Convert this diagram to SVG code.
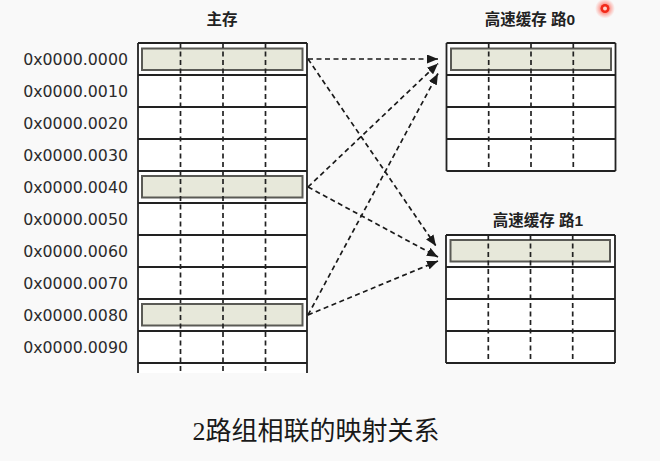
<svg xmlns="http://www.w3.org/2000/svg" width="660" height="461" viewBox="0 0 660 461">
<defs>
<style>
.bg{fill:#f9f9f9}
.cell{fill:#ffffff;stroke:none}
.hl{fill:#e7e8da;stroke:#5a5a55;stroke-width:2}
.h{stroke:#222;stroke-width:1.8;fill:none}
.v{stroke:#222;stroke-width:1.8;fill:none}
.d{stroke:#222;stroke-width:1.7;stroke-dasharray:5,3.5;fill:none}
.addr{font-family:"DejaVu Sans",sans-serif;font-size:15.8px;fill:#2b2b2b;text-anchor:end}
.title{font-family:"Liberation Sans","Noto Sans CJK SC",sans-serif;font-size:15.5px;font-weight:bold;fill:#222;text-anchor:middle}
.cap{font-family:"Liberation Serif","Noto Sans CJK SC",serif;font-size:26px;fill:#1a1a1a;text-anchor:middle}
.conn{stroke:#1a1a1a;stroke-width:1.7;stroke-dasharray:5,3.5;fill:none}
</style>
<marker id="ah" markerUnits="userSpaceOnUse" markerWidth="12" markerHeight="9" refX="11" refY="4.5" orient="auto">
<path d="M0,0 L11,4.5 L0,9 z" fill="#1a1a1a"/>
</marker>
<radialGradient id="glow">
<stop offset="0" stop-color="#ff2a1a" stop-opacity="0.9"/>
<stop offset="0.5" stop-color="#ff4a3a" stop-opacity="0.5"/>
<stop offset="1" stop-color="#ff6a5a" stop-opacity="0"/>
</radialGradient>
</defs>
<rect class="bg" x="0" y="0" width="660" height="461"/>

<g id="main-memory">
<text class="title" x="222" y="25">主存</text>
<rect class="cell" x="138" y="43" width="169" height="330"/>
<rect class="hl" x="142" y="48.5" width="160.5" height="21.5"/>
<rect class="hl" x="142" y="176" width="160.5" height="21.5"/>
<rect class="hl" x="142" y="304" width="160.5" height="21.5"/>
<path class="h" d="M138,43H307M138,75H307M138,107H307M138,139H307M138,171H307M138,203H307M138,235H307M138,267H307M138,299H307M138,331H307M138,363H307"/>
<path class="v" d="M138,43V373M307,43V373"/>
<path class="d" d="M180.5,43V373M223,43V373M265.5,43V373"/>
<text class="addr" x="128" y="65">0x0000.0000</text>
<text class="addr" x="128" y="97">0x0000.0010</text>
<text class="addr" x="128" y="129">0x0000.0020</text>
<text class="addr" x="128" y="161">0x0000.0030</text>
<text class="addr" x="128" y="193">0x0000.0040</text>
<text class="addr" x="128" y="225">0x0000.0050</text>
<text class="addr" x="128" y="257">0x0000.0060</text>
<text class="addr" x="128" y="289">0x0000.0070</text>
<text class="addr" x="128" y="321">0x0000.0080</text>
<text class="addr" x="128" y="353">0x0000.0090</text>
</g>

<g id="cache-way0">
<text class="title" x="530" y="25">高速缓存 路0</text>
<rect class="cell" x="446.5" y="43" width="169" height="128"/>
<rect class="hl" x="451" y="48.5" width="160" height="21.5"/>
<path class="h" d="M446.5,43H615.5M446.5,75H615.5M446.5,107H615.5M446.5,139H615.5M446.5,171H615.5"/>
<path class="v" d="M446.5,43V171M615.5,43V171"/>
<path class="d" d="M488.7,43V171M531,43V171M573.3,43V171"/>
</g>

<g id="cache-way1">
<text class="title" x="538" y="226">高速缓存 路1</text>
<rect class="cell" x="446" y="235" width="169" height="128"/>
<rect class="hl" x="450.5" y="240" width="159.5" height="21.5"/>
<path class="h" d="M446,235H615M446,267H615M446,299H615M446,331H615M446,363H615"/>
<path class="v" d="M446,235V363M615,235V363"/>
<path class="d" d="M488.3,235V363M530.5,235V363M572.7,235V363"/>
</g>

<g id="connectors">
<line class="conn" x1="308" y1="59" x2="438" y2="59" marker-end="url(#ah)"/>
<line class="conn" x1="308" y1="59" x2="436" y2="246" marker-end="url(#ah)"/>
<line class="conn" x1="308" y1="187" x2="438" y2="63.5" marker-end="url(#ah)"/>
<line class="conn" x1="308" y1="187" x2="438" y2="257" marker-end="url(#ah)"/>
<line class="conn" x1="308" y1="315" x2="438" y2="73.5" marker-end="url(#ah)"/>
<line class="conn" x1="308" y1="315" x2="438" y2="261" marker-end="url(#ah)"/>
</g>

<g id="cursor">
<circle cx="605" cy="8.5" r="10" fill="url(#glow)"/>
<circle cx="605" cy="8.5" r="4.5" fill="#f22a1a"/>
<circle cx="605" cy="8.5" r="2" fill="#ffd0c8"/>
</g>

<text class="cap" x="316" y="440">2路组相联的映射关系</text>
</svg>
